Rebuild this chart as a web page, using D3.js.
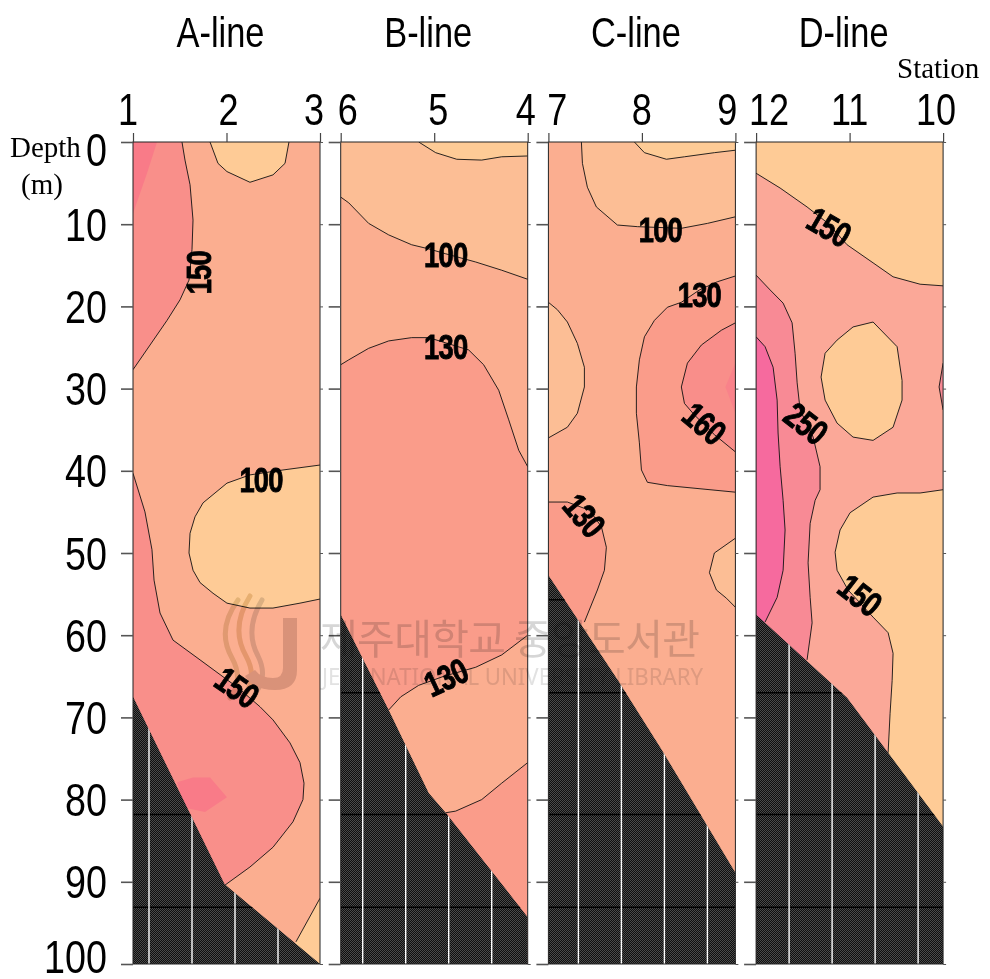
<!DOCTYPE html>
<html>
<head>
<meta charset="utf-8">
<script src="https://cdn.jsdelivr.net/npm/d3@7"></script>
<style>
  body { margin: 0; background: #fff; }
  svg { display: block; }
  .narrow { font-family: "Liberation Sans", Arial, sans-serif; }
  .serif { font-family: "Liberation Serif", "DejaVu Serif", serif; }
</style>
</head>
<body>
<div id="chart"></div>
<script>
// ---------- data ----------
var lineNames = ["A-line", "B-line", "C-line", "D-line"];
var stationsA = [1, 2, 3];
var stationsB = [6, 5, 4];
var stationsC = [7, 8, 9];
var stationsD = [12, 11, 10];
var depthTicks = [0, 10, 20, 30, 40, 50, 60, 70, 80, 90, 100];

// sea bottom profile [station, depth]
var bottomA = [[1, 67.5], [1.98, 90.3], [3, 100]];
var bottomB = [[6, 57.5], [5.487, 69.1], [5.059, 79.2], [4.877, 81.6], [4, 94.3]];
var bottomC = [[7, 52.7], [7.738, 65.4], [8.215, 74.0], [9, 88.9]];
var bottomD = [[12, 57.5], [11.027, 67.6], [10.588, 74.3], [10, 83.3]];

// contour regions: z = value of the band, edge = contour line [station, depth],
// rest = closing points along the frame / under the bottom
var regionsA = [
  {z: 160, edge: [[1.524, 0], [1.556, 2.2], [1.61, 5.2], [1.642, 9.5], [1.631, 13.1], [1.599, 16.8], [1.503, 19.2], [1.364, 21.7], [1.182, 24.7], [1, 27.7]], rest: [[1, 0]]},
  {z: 180, edge: [[1.257, 0], [1.15, 3.8], [1, 8.7]], rest: [[1, 0]], stroke: false},
  {z: 160, edge: [[1, 40.3], [1.128, 45.0], [1.203, 49.6], [1.225, 53.3], [1.289, 57.3], [1.428, 60.6], [1.717, 63.0], [2.123, 66.4], [2.358, 68.7], [2.497, 70.3], [2.679, 73.1], [2.786, 75.5], [2.829, 78.0], [2.818, 80.0], [2.711, 82.7], [2.497, 85.8], [2.251, 88.2], [1.984, 90.4]], rest: [[1, 91]]},
  {z: 180, edge: [[1.471, 77.9], [1.642, 77.3], [1.824, 77.3], [2.005, 79.7], [1.77, 81.5], [1.556, 81.0]], rest: [], stroke: false},
  {z: 80, edge: [[1.824, 0], [1.909, 2.6], [2.005, 3.6], [2.251, 4.9], [2.497, 4.0], [2.626, 2.6], [2.668, 0]], rest: []},
  {z: 80, edge: [[3, 39.3], [2.604, 39.9], [2.251, 40.5], [2.005, 41.5], [1.749, 43.9], [1.663, 45.6], [1.61, 47.6], [1.599, 50.0], [1.642, 52.1], [1.717, 53.6], [1.856, 54.9], [2.005, 56.1], [2.251, 56.7], [2.497, 56.7], [2.786, 56.1], [3, 55.6]], rest: []},
  {z: 80, edge: [[3, 92.0], [2.743, 97.3]], rest: [[2.6, 100], [3, 100]]}
];
var regionsB = [
  {z: 115, edge: [[6, 27.1], [5.914, 26.5], [5.701, 25.1], [5.487, 24.2], [5.241, 23.8], [5.059, 23.8], [4.631, 25.3], [4.471, 27.1], [4.31, 30.2], [4.203, 33.8], [4.096, 37.5], [4, 39.5]], rest: [[4, 0], [6, 0]]},
  {z: 85, edge: [[6, 6.7], [5.914, 7.4], [5.701, 9.9], [5.487, 11.3], [5.241, 12.5], [5.059, 13.0], [4.877, 13.6], [4.556, 14.6], [4.278, 15.6], [4, 16.7]], rest: [[4, 0], [6, 0]]},
  {z: 60, edge: [[5.166, 0], [4.984, 1.3], [4.759, 2.1], [4.492, 2.2], [4.278, 1.8], [4, 1.7]], rest: [[4, 0]]},
  {z: 115, edge: [[5.487, 69.1], [5.358, 67.5], [5.166, 66.1], [4.898, 65.0], [4.556, 63.9], [4.278, 62.4], [4, 60.0]],
   edge2: [[4, 75.5], [4.278, 78.0], [4.492, 80.0], [4.77, 81.4], [4.877, 81.6]], rest: [[5.3, 82]]}
];
var regionsC = [
  {z: 85, edge: [[7.353, 0], [7.364, 2.6], [7.417, 5.5], [7.513, 7.9], [7.738, 10.1], [7.952, 10.3], [8.422, 10.5], [8.701, 9.9], [9, 9.1]], rest: [[9, 0]]},
  {z: 60, edge: [[7.92, 0], [8.027, 1.3], [8.262, 2.1], [8.455, 1.8], [8.775, 1.3], [9, 1.0]], rest: [[9, 0]]},
  {z: 85, edge: [[7, 19.5], [7.096, 20.4], [7.203, 21.9], [7.31, 24.5], [7.385, 27.4], [7.385, 29.8], [7.31, 33.0], [7.203, 34.7], [7, 36.0]], rest: []},
  {z: 145, edge: [[9, 16.3], [8.807, 17.0], [8.615, 18.0], [8.422, 19.5], [8.273, 20.1], [8.134, 21.7], [8.027, 23.7], [7.973, 26.5], [7.941, 29.8], [7.941, 33.0], [7.973, 36.6], [7.995, 39.9], [8.059, 41.4], [8.273, 41.8], [9, 42.6]], rest: []},
  {z: 165, edge: [[9, 22.0], [8.85, 22.9], [8.636, 24.7], [8.487, 26.9], [8.422, 29.8], [8.455, 31.8], [8.561, 33.2], [8.775, 35.6], [9, 37.7]], rest: []},
  {z: 180, edge: [[9, 26.9], [8.893, 29.8], [9, 33.0]], rest: [], stroke: false},
  {z: 145, edge: [[7, 43.8], [7.203, 43.8], [7.439, 44.8], [7.567, 46.8], [7.62, 49.3], [7.599, 52.1], [7.524, 54.5], [7.385, 58.4]], rest: [[7, 62]]},
  {z: 85, edge: [[9, 48.2], [8.775, 50.0], [8.722, 52.4], [8.797, 54.5], [8.904, 55.5], [9, 56.6]], rest: []}
];
var regionsD = [
  {z: 120, edge: [[12, 3.8], [11.743, 5.6], [11.455, 7.9], [11.23, 9.9], [11.027, 12.5], [10.749, 14.7], [10.535, 16.4], [10.246, 17.3], [10, 17.5]], rest: [[10, 0], [12, 0]]},
  {z: 220, edge: [[12, 16.2], [11.85, 18.0], [11.711, 19.6], [11.615, 22.0], [11.583, 25.7], [11.561, 29.3], [11.529, 32.6], [11.39, 35.9], [11.316, 39.5], [11.316, 42.3], [11.369, 43.6], [11.422, 46.4], [11.444, 51.2], [11.422, 55.4], [11.401, 58.5], [11.455, 63.0]], rest: [[12, 70]]},
  {z: 270, edge: [[12, 23.7], [11.904, 24.9], [11.818, 27.4], [11.775, 31.4], [11.765, 35.4], [11.743, 39.5], [11.711, 43.6], [11.69, 47.2], [11.711, 52.1], [11.775, 55.4], [11.904, 58.4]], rest: [[12, 60]]},
  {z: 120, edge: [[10.749, 21.9], [10.492, 24.9], [10.439, 29.0], [10.439, 31.4], [10.535, 34.7], [10.749, 36.3], [10.963, 35.9], [11.134, 34.2], [11.262, 31.4], [11.305, 28.6], [11.262, 25.7], [11.134, 24.1], [10.963, 22.5], [10.749, 21.9]], rest: []},
  {z: 220, edge: [[10, 26.9], [10.043, 29.8], [10, 32.6]], rest: []},
  {z: 120, edge: [[10, 42.3], [10.246, 42.7], [10.492, 42.7], [10.749, 43.2], [10.995, 45.1], [11.102, 47.2], [11.155, 49.9], [11.134, 52.1], [11.016, 54.5], [10.749, 57.8], [10.588, 59.7], [10.535, 62.2], [10.545, 65.5], [10.567, 69.5], [10.588, 74.3]], rest: [[10.3, 85], [10, 85]]}
];

// contour labels [station, depth, text, angle]
var labelsA = [[1.695, 15.9, "150", -90], [2.369, 41.1, "100", 0], [2.112, 66.3, "150", 35]];
var labelsB = [[4.877, 13.7, "100", 0], [4.877, 24.9, "130", 0], [4.877, 65.1, "130", -25]];
var labelsC = [[8.198, 10.6, "100", 0], [8.615, 18.5, "130", 0], [8.668, 34.2, "160", 40], [7.385, 45.4, "130", 50]];
var labelsD = [[11.219, 10.3, "150", 30], [11.465, 34.2, "250", 38], [10.888, 55.1, "150", 38]];

// ---------- drawing ----------
var svg = d3.select("#chart").append("svg")
  .attr("width", 990)
  .attr("height", 979);

// condensed text: Liberation Sans squeezed horizontally
function narrowText(parent, x, y, str, size, anchor, angle, squeeze) {
  return parent.append("text")
    .attr("class", "narrow")
    .attr("transform", "translate(" + x + "," + y + ") rotate(" + (angle || 0) + ") scale(" + (squeeze || 0.82) + ",1)")
    .attr("text-anchor", anchor || "middle")
    .attr("font-size", size)
    .attr("fill", "#000")
    .text(str);
}

var defs = svg.append("defs");
var pat = defs.append("pattern")
  .attr("id", "seabed")
  .attr("width", 2).attr("height", 2)
  .attr("patternUnits", "userSpaceOnUse");
pat.append("rect").attr("width", 2).attr("height", 2).attr("fill", "#0e0e0e");
pat.append("rect").attr("width", 1).attr("height", 1).attr("fill", "#4a4a4a");
pat.append("rect").attr("x", 1).attr("y", 1).attr("width", 1).attr("height", 1).attr("fill", "#4a4a4a");

var y = d3.scaleLinear().domain([0, 100]).range([142, 964]);
var panelW = 187;

var panels = [
  {name: lineNames[0], st: stationsA, regions: regionsA, bottom: bottomA, labels: labelsA, base: 120,
   color: d3.scaleThreshold().domain([100, 150, 170]).range(["#fecb96", "#fbae90", "#f98f8a", "#f97b88"]),
   topShift: [-5, 2, -6], hatch0: 16},
  {name: lineNames[1], st: stationsB, regions: regionsB, bottom: bottomB, labels: labelsB, base: 140,
   color: d3.scaleThreshold().domain([70, 100, 130]).range(["#fecb96", "#fcbe95", "#fbae90", "#fa9c8a"]),
   topShift: [7, 4, -2], hatch0: 22},
  {name: lineNames[2], st: stationsC, regions: regionsC, bottom: bottomC, labels: labelsC, base: 115,
   color: d3.scaleThreshold().domain([70, 100, 130, 160, 175]).range(["#fecb96", "#fcbe95", "#fbae90", "#fa9c8a", "#f98e8a", "#f9828a"]),
   topShift: [9, 0, -8], hatch0: 30},
  {name: lineNames[3], st: stationsD, regions: regionsD, bottom: bottomD, labels: labelsD, base: 170,
   color: d3.scaleThreshold().domain([150, 200, 250]).range(["#fecb96", "#fba898", "#f88a95", "#f66a9e"]),
   topShift: [13, 0, -7], hatch0: 33}
];
var hatchDepths = [55.7, 67.0, 81.8, 93.1];

panels.forEach(function(p, i) {
  var left = 133 + i * 207.7;
  var x = d3.scaleLinear().domain([p.st[0], p.st[2]]).range([left, left + panelW]);
  var line = d3.line().x(function(d) { return x(d[0]); }).y(function(d) { return y(d[1]); });

  defs.append("clipPath").attr("id", "panel" + i)
    .append("rect")
      .attr("x", left).attr("y", y(0))
      .attr("width", panelW).attr("height", y(100) - y(0));

  var body = svg.append("g").attr("clip-path", "url(#panel" + i + ")");

  // background band
  body.append("rect")
    .attr("x", left).attr("y", y(0))
    .attr("width", panelW).attr("height", y(100) - y(0))
    .attr("fill", p.color(p.base));

  // filled bands
  p.regions.forEach(function(r) {
    var poly = r.edge.concat(r.edge2 || [], r.rest || []);
    body.append("path")
      .attr("d", line(poly) + "Z")
      .attr("fill", p.color(r.z));
  });

  // contour lines
  p.regions.forEach(function(r) {
    if (r.stroke === false) return;
    [r.edge, r.edge2].forEach(function(e) {
      if (!e) return;
      body.append("path")
        .attr("d", line(e))
        .attr("fill", "none")
        .attr("stroke", "#111")
        .attr("stroke-width", 0.9);
    });
  });

  // contour labels
  p.labels.forEach(function(l) {
    narrowText(body, x(l[0]), y(l[1]), l[2], 35, "middle", l[3], 0.78)
      .attr("dy", "0.36em")
      .attr("font-weight", "bold")
      .attr("letter-spacing", -1)
      .attr("stroke", "#000")
      .attr("stroke-width", 0.9);
  });

  // sea bottom
  var bed = p.bottom.concat([[p.st[2], 100.4], [p.st[0], 100.4]]);
  defs.append("clipPath").attr("id", "bed" + i)
    .append("path").attr("d", line(bed) + "Z");
  body.append("path")
    .attr("d", line(bed) + "Z")
    .attr("fill", "url(#seabed)");
  var hatch = body.append("g").attr("clip-path", "url(#bed" + i + ")");
  hatchDepths.forEach(function(d) {
    hatch.append("line")
      .attr("x1", left).attr("x2", left + panelW)
      .attr("y1", y(d)).attr("y2", y(d))
      .attr("stroke", "#000").attr("stroke-width", 1.5);
  });
  d3.range(4).forEach(function(k) {
    var xx = left + p.hatch0 + 43 * k;
    hatch.append("line")
      .attr("x1", xx).attr("x2", xx)
      .attr("y1", y(0) + 6).attr("y2", y(100))
      .attr("stroke", "#fff").attr("stroke-width", 1.4);
  });

  // frame
  svg.append("rect")
    .attr("x", left).attr("y", y(0))
    .attr("width", panelW).attr("height", y(100) - y(0))
    .attr("fill", "none")
    .attr("stroke", "#222")
    .attr("stroke-width", 1);

  // depth axis
  var ay = svg.append("g")
    .attr("transform", "translate(" + left + ",0)")
    .call(d3.axisLeft(y).tickValues(depthTicks).tickSize(12).tickFormat(""));
  ay.select(".domain").remove();
  ay.selectAll(".tick line").attr("stroke", "#555").attr("stroke-width", 1.6);
  if (i === 0) {
    depthTicks.forEach(function(d) {
      var nudge = d === 0 ? 7 : d === 100 ? -8 : 0;
      narrowText(svg, left - 26, y(d) + nudge, d, 46, "end")
        .attr("dy", "0.36em");
    });
  }

  var ar = svg.append("g")
    .attr("transform", "translate(" + (left + panelW) + ",0)")
    .call(d3.axisRight(y).tickValues(depthTicks).tickSize(3).tickFormat(""));
  ar.select(".domain").remove();
  ar.selectAll(".tick line").attr("stroke", "#555");

  // station axis
  var ax = svg.append("g")
    .attr("transform", "translate(0," + y(0) + ")")
    .call(d3.axisTop(x).tickValues(p.st).tickSize(9).tickFormat(""));
  ax.select(".domain").remove();
  ax.selectAll(".tick line").attr("stroke", "#444").attr("stroke-width", 1.2);

  p.st.forEach(function(d, j) {
    narrowText(svg, x(d) + p.topShift[j], 125, d, 44, "middle");
  });

  // title
  narrowText(svg, left + panelW / 2 - 6, 47, p.name, 42, "middle");
});

// axis captions
svg.append("text").attr("class", "serif")
  .attr("x", 10).attr("y", 157).attr("font-size", 29).text("Depth");
svg.append("text").attr("class", "serif")
  .attr("x", 21).attr("y", 194).attr("font-size", 29).text("(m)");
svg.append("text").attr("class", "serif")
  .attr("x", 897).attr("y", 78).attr("font-size", 29).text("Station");

// library watermark
var wm = svg.append("g").style("mix-blend-mode", "multiply");
[["M238,600 q-22,30 -6,58 q12,22 -2,40", "#e4e0c8"],
 ["M250,596 q-20,32 -4,60 q12,22 -2,40", "#e8dcc0"],
 ["M262,600 q-18,30 -4,56 q10,20 -2,36", "#dcdcdc"]].forEach(function(w) {
  wm.append("path").attr("d", w[0]).attr("fill", "none")
    .attr("stroke", w[1]).attr("stroke-width", 5).attr("stroke-linecap", "round");
});
wm.append("path")
  .attr("d", "M283,618 h14 v52 q0,20 -22,20 q-22,0 -30,-14 l10,-6 q6,8 18,8 q10,0 10,-10 z")
  .attr("fill", "#ddd6d6");
wm.append("text")
  .attr("x", 320).attr("y", 654)
  .attr("font-family", "'Noto Sans CJK KR', sans-serif")
  .attr("font-size", 41)
  .attr("textLength", 380)
  .attr("fill", "#d6d6d6")
  .text("제주대학교 중앙도서관");
wm.append("text")
  .attr("x", 322).attr("y", 685)
  .attr("font-family", "'Noto Sans', sans-serif")
  .attr("font-size", 23)
  .attr("textLength", 381)
  .attr("lengthAdjust", "spacingAndGlyphs")
  .attr("fill", "#e2e2e2")
  .text("JEJU NATIONAL UNIVERSITY LIBRARY");
</script>
</body>
</html>
